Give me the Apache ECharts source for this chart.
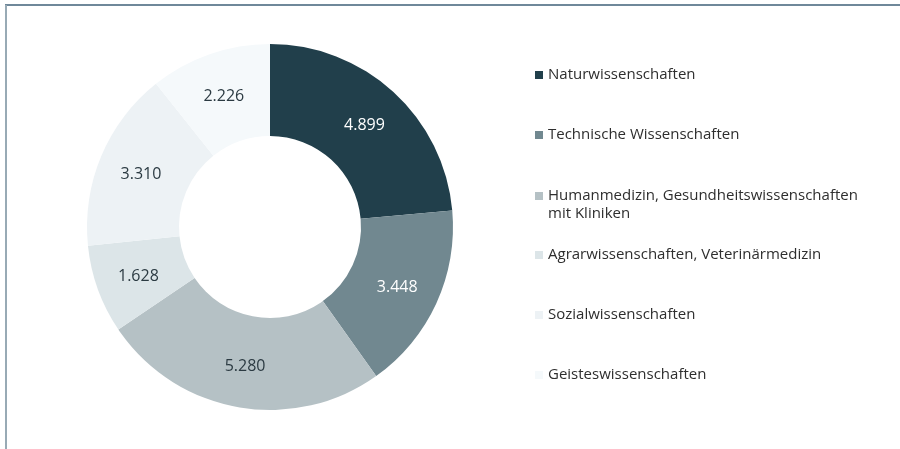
<!DOCTYPE html>
<html>
<head>
<meta charset="utf-8">
<style>
  html, body { margin: 0; padding: 0; background: #ffffff; }
  #chart { width: 900px; height: 449px; }
</style>
<script src="https://cdn.jsdelivr.net/npm/echarts@6/dist/echarts.min.js"></script>
</head>
<body>
<div id="chart"></div>
<script>
// Fachgebiete und Anzahl (in Tausend-Schreibweise mit Punkt)
const categories = [
  'Naturwissenschaften',
  'Technische Wissenschaften',
  'Humanmedizin, Gesundheitswissenschaften\nmit Kliniken',
  'Agrarwissenschaften, Veterinärmedizin',
  'Sozialwissenschaften',
  'Geisteswissenschaften'
];
const values = [4899, 3448, 5280, 1628, 3310, 2226];
const colors = ['#213f4b', '#718890', '#b5c1c5', '#dce5e8', '#edf2f5', '#f5f9fb'];
const labelColors = ['#ffffff', '#ffffff', '#2b3a42', '#2b3a42', '#2b3a42', '#2b3a42'];

const FONT = '"Open Sans", "Noto Sans", sans-serif';
const LINE_H = 18;

function formatDe(n) {
  return String(n).replace(/\B(?=(\d{3})+(?!\d))/g, '.');
}

const data = categories.map((name, i) => ({
  name: name,
  value: values[i],
  itemStyle: { color: colors[i] },
  label: { color: labelColors[i] }
}));

// one legend per entry so each row sits on a fixed 60px pitch;
// two-line entries get a tall icon box with the square aligned to the first line
const legendCenters = [75, 135, 196, 255, 315, 375];
const legends = categories.map((name, i) => {
  const lines = name.split('\n').length;
  const single = lines === 1;
  const boxH = lines * LINE_H;
  const sq = (LINE_H - 8) / 2;
  return {
    data: [name],
    orient: 'vertical',
    left: 535,
    top: legendCenters[i] - LINE_H / 2,
    padding: 0,
    itemWidth: 8,
    itemHeight: single ? 8 : boxH,
    icon: single ? 'rect'
      : 'path://M0,' + sq + 'h8v8h-8z M0,0L0,0 M0,' + boxH + 'L0,' + boxH,
    selectedMode: false,
    textStyle: {
      fontFamily: FONT,
      fontSize: 15,
      color: '#2e2e2e',
      lineHeight: LINE_H
    }
  };
});

const chart = echarts.init(document.getElementById('chart'), null, { renderer: 'canvas' });
chart.setOption({
  animation: false,
  backgroundColor: '#ffffff',
  legend: legends,
  graphic: [
    { type: 'line', shape: { x1: 5, y1: 5, x2: 900, y2: 5 }, style: { stroke: '#3f6179', lineWidth: 1.5 } },
    { type: 'line', shape: { x1: 6, y1: 5, x2: 6, y2: 449 }, style: { stroke: '#98aab5', lineWidth: 2 } }
  ],
  series: [{
    type: 'pie',
    center: [270, 227],
    radius: [91, 183],
    startAngle: 90,
    clockwise: true,
    avoidLabelOverlap: false,
    emphasis: { disabled: true },
    label: {
      show: true,
      position: 'inside',
      fontFamily: FONT,
      fontSize: 16,
      formatter: p => formatDe(p.value)
    },
    labelLayout: { dy: 2 },
    labelLine: { show: false },
    data: data
  }]
});
</script>
</body>
</html>
